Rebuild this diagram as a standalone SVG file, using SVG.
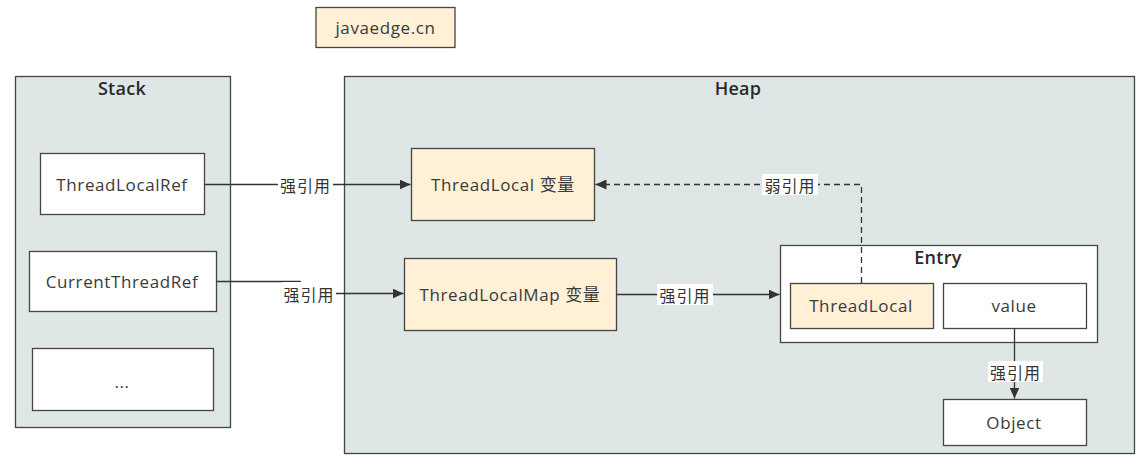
<svg xmlns="http://www.w3.org/2000/svg" width="1142" height="468" viewBox="0 0 1142 468">
<style>
.box{stroke:#444;stroke-width:1.3}
.area{fill:#dee6e6}
.peach{fill:#fff0d6}
.white{fill:#ffffff}
text{font-family:"Open Sans","Noto Sans CJK SC",sans-serif;fill:#3a3a3a;font-size:17px;letter-spacing:0.6px;text-anchor:middle;dominant-baseline:central}
.title{font-size:18px;font-weight:600;fill:#2a2a2a;letter-spacing:0.3px}
.lbl{font-family:"Noto Sans CJK SC",sans-serif;font-size:16px;letter-spacing:1px;fill:#333}
.edge{stroke:#333;stroke-width:1.3;fill:none}
.dash{stroke-dasharray:6 4}
</style>
<defs>
<marker id="arr" markerWidth="12" markerHeight="10" refX="11" refY="5" orient="auto" markerUnits="userSpaceOnUse">
<path d="M0,0 L11,5 L0,10 z" fill="#333"/>
</marker>
</defs>
<rect width="1142" height="468" fill="#ffffff"/>
<g id="javaedge">
<rect class="box peach" x="316" y="7.5" width="139" height="40"/>
<text x="385.5" y="27.5">javaedge.cn</text>
</g>
<g id="stack">
<rect class="box area" x="15.5" y="76.5" width="215" height="351"/>
<text class="title" x="122" y="88">Stack</text>
</g>
<g id="heap">
<rect class="box area" x="344.5" y="76.5" width="790" height="377"/>
<text class="title" x="738" y="88">Heap</text>
</g>
<g id="threadLocalRef">
<rect class="box white" x="40.5" y="153.5" width="164" height="61"/>
<text x="122" y="184">ThreadLocalRef</text>
</g>
<g id="currentThreadRef">
<rect class="box white" x="29.5" y="251.5" width="187" height="60"/>
<text x="122" y="281">CurrentThreadRef</text>
</g>
<g id="ellipsis">
<rect class="box white" x="32.5" y="348.5" width="181" height="62"/>
<text x="122" y="381">...</text>
</g>
<g id="threadLocalVar">
<rect class="box peach" x="411.5" y="148.5" width="183" height="72"/>
<text x="503" y="184">ThreadLocal 变量</text>
</g>
<g id="threadLocalMapVar">
<rect class="box peach" x="404.5" y="258.5" width="212" height="72"/>
<text x="510" y="294">ThreadLocalMap 变量</text>
</g>
<g id="entry">
<rect class="box white" x="780.5" y="245.5" width="317" height="97"/>
<text class="title" x="938" y="257">Entry</text>
</g>
<g id="entryThreadLocal">
<rect class="box peach" x="790.5" y="283.5" width="143" height="45"/>
<text x="861" y="305">ThreadLocal</text>
</g>
<g id="entryValue">
<rect class="box white" x="943.5" y="283.5" width="143" height="45"/>
<text x="1014" y="305">value</text>
</g>
<g id="object">
<rect class="box white" x="943.5" y="399.5" width="143" height="46"/>
<text x="1014" y="422">Object</text>
</g>
<g id="connectors">
<path class="edge" d="M204.5,184.5 H410.5" marker-end="url(#arr)"/>
<rect x="278" y="174" width="55" height="21" fill="#ffffff"/>
<text class="lbl" x="305.5" y="184.5">强引用</text>

<path class="edge" d="M216.5,281.5 H300 L312,293.5 H403.5" marker-end="url(#arr)"/>
<rect x="282" y="282" width="54" height="22" fill="#ffffff"/>
<text class="lbl" x="309" y="293.5">强引用</text>

<path class="edge" d="M616.5,294.5 H779.5" marker-end="url(#arr)"/>
<rect x="657" y="284" width="56" height="21" fill="#ffffff"/>
<text class="lbl" x="685" y="294.5">强引用</text>

<path class="edge dash" d="M861.5,283 V184.5 H595.5" marker-end="url(#arr)"/>
<rect x="762" y="174" width="56" height="21" fill="#ffffff"/>
<text class="lbl" x="790" y="184.5">弱引用</text>

<path class="edge" d="M1014.5,328.5 V398.5" marker-end="url(#arr)"/>
<rect x="988" y="361" width="55" height="21" fill="#ffffff"/>
<text class="lbl" x="1015.5" y="371.5">强引用</text>
</g>
</svg>
